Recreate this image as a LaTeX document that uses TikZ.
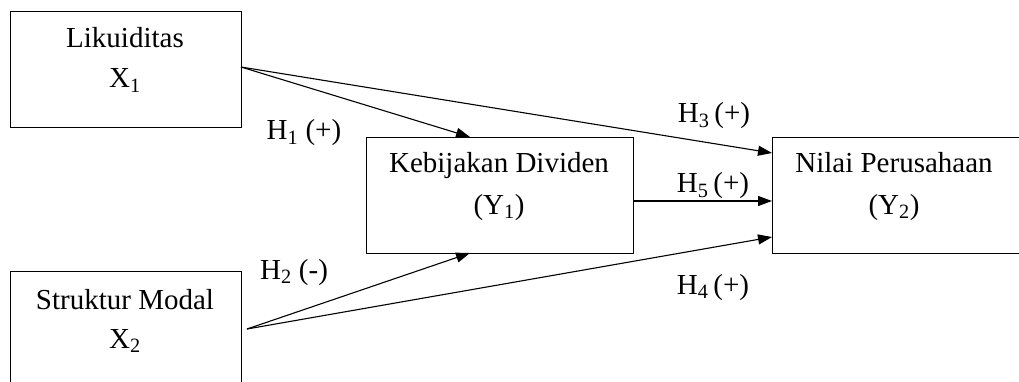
\documentclass[tikz,border=0pt]{standalone}
\usepackage{fontspec}
\setmainfont{Liberation Serif}
\usetikzlibrary{arrows.meta}
\begin{document}
\begin{tikzpicture}[x=1pt,y=-1pt,
  box/.style={draw=black,line width=1.3pt,anchor=north west,inner sep=0pt},
  txt/.style={anchor=base,inner sep=0pt,font=\fontsize{29}{35}\selectfont},
  conn/.style={line width=1.1pt,-{Triangle[length=14pt,width=10pt]}}]
\useasboundingbox (0,0) rectangle (1019,382);
\clip (0,0) rectangle (1019,382);
% boxes
\node[box,minimum width=231pt,minimum height=116pt] (lik) at (10,11) {};
\node[box,minimum width=231pt,minimum height=140pt] (sm) at (10,271) {};
\node[box,minimum width=267pt,minimum height=116pt] (keb) at (366,137) {};
\node[box,minimum width=260pt,minimum height=116pt] (nil) at (772,137) {};
% box texts
\node[txt] (likA) at (125,48) {Likuiditas};
\node[txt] (likB) at (125,88) {X\textsubscript{1}};
\node[txt] (smA) at (125,309) {Struktur Modal};
\node[txt] (smB) at (125,348) {X\textsubscript{2}};
\node[txt] (kebA) at (499,173) {Kebijakan Dividen};
\node[txt] (kebB) at (499,214) {(Y\textsubscript{1})};
\node[txt] (nilA) at (894,173) {Nilai Perusahaan};
\node[txt] (nilB) at (894,214) {(Y\textsubscript{2})};
% connector endpoints
\coordinate (likOut) at (241,67);
\coordinate (smOut) at (247,329);
\coordinate (kebTop) at (470,137);
\coordinate (kebBot) at (470,253);
\coordinate (kebOut) at (633,201);
\coordinate (nilIn1) at (772,153);
\coordinate (nilIn2) at (772,201);
\coordinate (nilIn3) at (772,237);
% connectors
\draw[conn] (likOut) -- (kebTop);
\draw[conn] (likOut) -- (nilIn1);
\draw[conn] (kebOut) -- (nilIn2);
\draw[conn] (smOut) -- (kebBot);
\draw[conn] (smOut) -- (nilIn3);
% hypothesis labels
\node[txt] (h1) at (304,140) {H\textsubscript{1} (+)};
\node[txt] (h3) at (714,123) {H\textsubscript{3}\,(+)};
\node[txt] (h5) at (713,193) {H\textsubscript{5}\,(+)};
\node[txt] (h2) at (294,279) {H\textsubscript{2} (-)};
\node[txt] (h4) at (713,294) {H\textsubscript{4}\,(+)};
\end{tikzpicture}
\end{document}
